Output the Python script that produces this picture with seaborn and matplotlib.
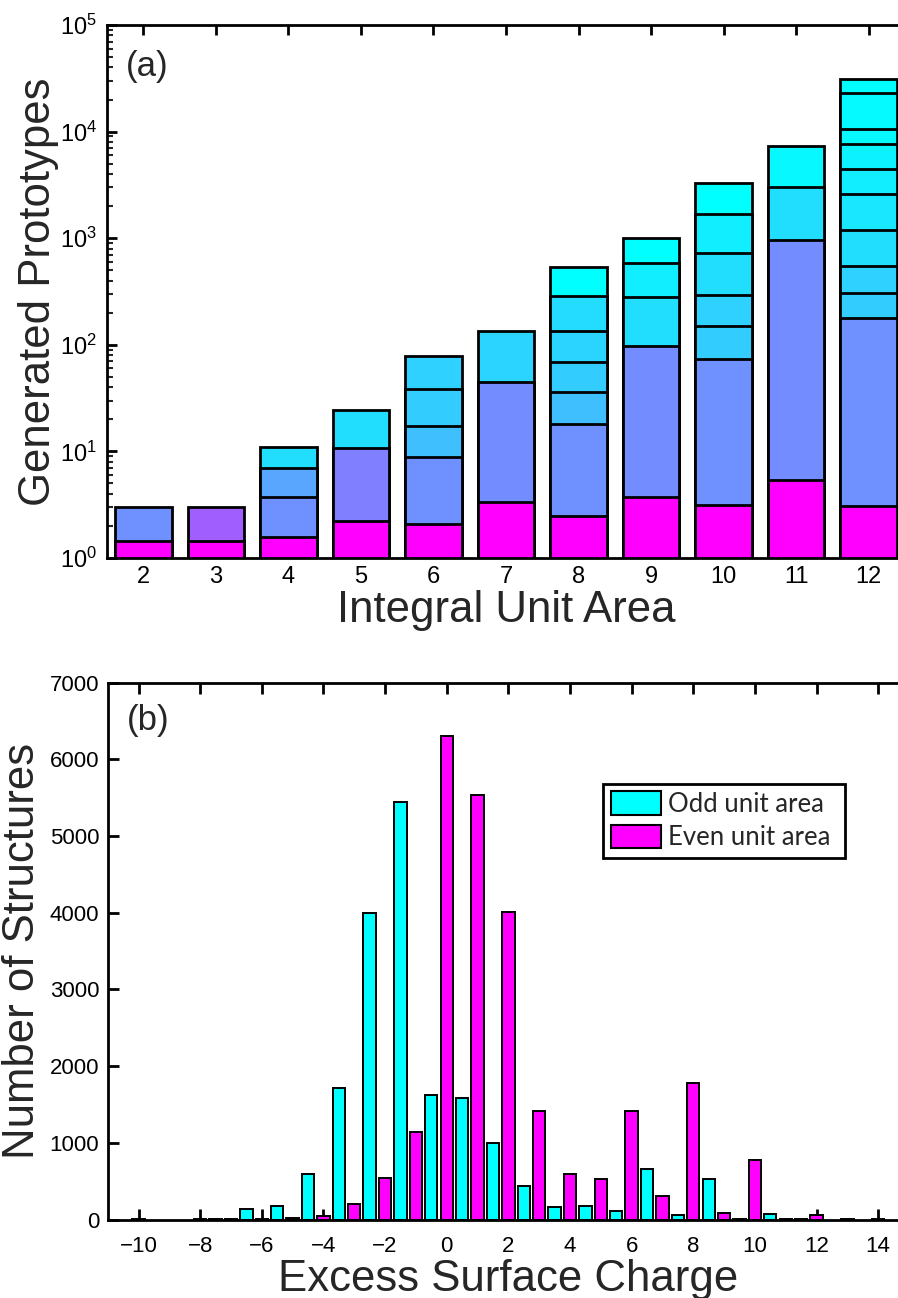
import matplotlib
matplotlib.use("Agg")
import matplotlib.pyplot as plt
import numpy as np
import pandas as pd
import seaborn as sns
from matplotlib.ticker import LogLocator, LogFormatterMathtext, MultipleLocator, NullFormatter

# ---------------- (a) generated prototypes per integral unit area ----------------
# cumulative top of every stacked segment, bottom to top
unit_areas = [2, 3, 4, 5, 6, 7, 8, 9, 10, 11, 12]
tops_area_2 = [1.45, 3.0]
tops_area_3 = [1.45, 3.0]
tops_area_4 = [1.56, 3.7, 7.0, 11.1]
tops_area_5 = [2.24, 10.8, 24.5]
tops_area_6 = [2.08, 8.9, 17.3, 38.2, 78]
tops_area_7 = [3.37, 44.8, 135]
tops_area_8 = [2.48, 18.1, 36.1, 68.5, 135, 287, 540]
tops_area_9 = [3.76, 97.5, 283, 589, 998]
tops_area_10 = [3.14, 73, 150, 295, 722, 1687, 3273]
tops_area_11 = [5.39, 962, 3020, 7330]
tops_area_12 = [3.07, 180, 308, 552, 1186, 2583, 4490, 7600, 10640, 23170, 31340]

# ---------------- (b) excess surface charge histogram ----------------
odd_charge = [-7.5, -6.5, -5.5, -4.5, -3.5, -2.5, -1.5, -0.5, 0.5, 1.5, 2.5, 3.5,
              4.5, 5.5, 6.5, 7.5, 8.5, 9.5, 10.5, 11.5]
odd_count = [5, 140, 180, 590, 1715, 4000, 5440, 1625, 1586, 1003, 440, 160,
             180, 115, 664, 60, 525, 10, 75, 5]
even_charge = [-10, -8, -7, -6, -5, -4, -3, -2, -1, 0, 1, 2, 3, 4, 5, 6, 7, 8,
               9, 10, 11, 12, 13, 14]
even_count = [3, 5, 3, 10, 20, 50, 200, 546, 1138, 6310, 5530, 4010, 1420, 590,
              525, 1422, 310, 1785, 80, 777, 10, 55, 5, 3]

# ---------------- styling ----------------
# position of each segment on the "cool" colormap (1 = magenta, 0 = cyan)
segment_shades = {
    2: [1.0, 0.43],
    3: [1.0, 0.63],
    4: [1.0, 0.43, 0.35, 0.13],
    5: [1.0, 0.50, 0.13],
    6: [1.0, 0.43, 0.25, 0.20, 0.18],
    7: [1.0, 0.45, 0.17],
    8: [1.0, 0.43, 0.25, 0.20, 0.17, 0.14, 0.0],
    9: [1.0, 0.45, 0.13, 0.07, 0.0],
    10: [1.0, 0.43, 0.20, 0.18, 0.13, 0.07, 0.0],
    11: [1.0, 0.45, 0.13, 0.03],
    12: [1.0, 0.43, 0.20, 0.18, 0.13, 0.10, 0.07, 0.05, 0.03, 0.02, 0.0],
}
CYAN = "#00ffff"
MAGENTA = "#ff00ff"

sns.set_theme(style="ticks")
plt.rcParams["font.family"] = ["Liberation Sans", "DejaVu Sans"]
plt.rcParams["mathtext.fontset"] = "custom"
plt.rcParams["mathtext.rm"] = "Liberation Sans"
plt.rcParams["mathtext.it"] = "Liberation Sans"
plt.rcParams["mathtext.bf"] = "Liberation Sans"
plt.rcParams["mathtext.default"] = "regular"
plt.rcParams["axes.linewidth"] = 2.0
plt.rcParams["axes.edgecolor"] = "black"

fig = plt.figure(figsize=(8.98, 12.98), dpi=100)
ax_a = fig.add_axes([107 / 898, 1 - 558 / 1298, 798 / 898, 533 / 1298])
ax_b = fig.add_axes([107.7 / 898, 1 - 1219.6 / 1298, 801.3 / 898, 536.9 / 1298])

# ---- panel (a): stacked bars on a log axis ----
all_tops = [tops_area_2, tops_area_3, tops_area_4, tops_area_5, tops_area_6,
            tops_area_7, tops_area_8, tops_area_9, tops_area_10, tops_area_11,
            tops_area_12]
rows = []
for area, tops in zip(unit_areas, all_tops):
    for lvl, top in enumerate(tops):
        rows.append({"area": str(area), "level": lvl, "top": top,
                     "key": f"{area}:{lvl}", "shade": segment_shades[area][lvl]})
df_a = pd.DataFrame(rows)
cool = plt.get_cmap("cool")
palette_a = {r.key: cool(r.shade) for r in df_a.itertuples()}
order_a = [str(a) for a in unit_areas]

ax_a.set_yscale("log")
# draw the tallest (cumulative) segments first so lower ones sit on top
for lvl in sorted(df_a["level"].unique(), reverse=True):
    sub = df_a[df_a["level"] == lvl]
    sns.barplot(data=sub, x="area", y="top", hue="key", order=order_a,
                palette={k: palette_a[k] for k in sub["key"]}, dodge=False,
                saturation=1, width=0.78, edgecolor="black", linewidth=2.0,
                errorbar=None, legend=False, ax=ax_a)

ax_a.set_xlim(-0.5, 10.5)
ax_a.set_ylim(1, 1e5)
ax_a.yaxis.set_major_locator(LogLocator(base=10, numticks=10))
ax_a.yaxis.set_major_formatter(LogFormatterMathtext())
ax_a.yaxis.set_minor_locator(LogLocator(base=10, subs=np.arange(2, 10), numticks=20))
ax_a.yaxis.set_minor_formatter(NullFormatter())
ax_a.tick_params(axis="both", which="major", direction="in", length=7, width=2,
                 top=True, right=False, labelsize=17, pad=7, colors="black")
ax_a.tick_params(axis="x", pad=6)
ax_a.tick_params(axis="y", which="minor", direction="in", length=4, width=1.5,
                 right=False)
ax_a.spines["right"].set_visible(False)
ax_a.set_xlabel("Integral Unit Area", fontsize=31.5, labelpad=1)
ax_a.set_ylabel("Generated Prototypes", fontsize=31.5, labelpad=1)
ax_a.text(0.024, 0.923, "(a)", transform=ax_a.transAxes, fontsize=25,
          ha="left", va="center")

# ---- panel (b): charge histogram, odd vs even unit area ----
df_b = pd.concat([
    pd.DataFrame({"charge": odd_charge, "count": odd_count, "series": "Odd unit area"}),
    pd.DataFrame({"charge": even_charge, "count": even_count, "series": "Even unit area"}),
], ignore_index=True)
sns.barplot(data=df_b, x="charge", y="count", hue="series",
            hue_order=["Odd unit area", "Even unit area"],
            palette={"Odd unit area": CYAN, "Even unit area": MAGENTA},
            native_scale=True, dodge=False, saturation=1, width=0.8,
            edgecolor="black", linewidth=1.4, errorbar=None, ax=ax_b)

ax_b.set_xlim(-11, 15)
ax_b.set_ylim(0, 7000)
ax_b.xaxis.set_major_locator(MultipleLocator(2))
ax_b.yaxis.set_major_locator(MultipleLocator(1000))
ax_b.tick_params(axis="both", which="major", direction="in", length=8, width=2,
                 top=True, right=False, labelsize=16, pad=6, colors="black")
ax_b.tick_params(axis="x", pad=12)
ax_b.spines["right"].set_visible(False)
ax_b.set_xlabel("Excess Surface Charge", fontsize=31.5, labelpad=1)
ax_b.set_ylabel("Number of Structures", fontsize=31.5, labelpad=5)
ax_b.text(0.024, 0.9305, "(b)", transform=ax_b.transAxes, fontsize=25,
          ha="left", va="center")

handles, labels = ax_b.get_legend_handles_labels()
leg = ax_b.legend(handles, labels, loc="lower left",
                  bbox_to_anchor=(0.618, 0.6735, 0.302, 0.134), mode="expand",
                  borderaxespad=0, frameon=True, fancybox=False, framealpha=1,
                  edgecolor="black", prop={"family": ["Lato", "DejaVu Sans"], "size": 18.5},
                  handlelength=1.95, handleheight=1.05, handletextpad=0.3,
                  borderpad=0.3, labelspacing=0.3)
leg.get_frame().set_linewidth(2.0)
for h in leg.legend_handles:
    h.set_edgecolor("black")
    h.set_linewidth(1.5)

fig.savefig("out.png", dpi=100)
